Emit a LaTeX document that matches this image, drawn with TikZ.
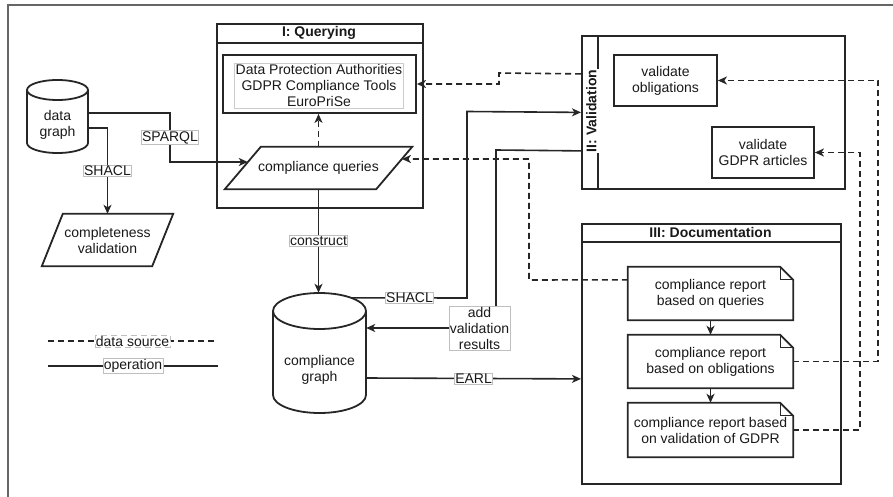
\documentclass[tikz,border=0pt]{standalone}
\usepackage{fontspec}
\setmainfont{Liberation Sans}
\usetikzlibrary{arrows.meta,calc}
\begin{document}
\begin{tikzpicture}[x=1pt,y=-1pt,
  base/.style={font=\fontsize{14}{16}\selectfont, align=center, text=black!90},
  titletxt/.style={font=\fontsize{14}{16}\selectfont\bfseries, text=black!90},
  box/.style={draw=black!85, line width=1.8pt},
  conn/.style={draw=black!85, line width=1.6pt},
  arr/.style={conn, -{Stealth[length=9pt,width=8pt,inset=2.5pt]}},
  dsh/.style={conn, dash pattern=on 6pt off 4pt},
  darr/.style={dsh, -{Stealth[length=9pt,width=8pt,inset=2.5pt]}},
  lbl/.style={base, fill=white, draw=black!25, line width=0.5pt, inner sep=0.8pt},
  area/.style={inner sep=0pt},
]
\useasboundingbox (0,0) rectangle (893,497);

% outer frame
\draw[black!60, line width=1.2pt] (8,497) -- (8,5) -- (893,5);

% ---- lanes ----
\node[box, area, minimum width=206, minimum height=184, anchor=north west] (ql) at (216,23) {};
\draw[box] ($(ql.north west)+(0,20)$) -- ($(ql.north east)+(0,20)$);
\node[titletxt] (qt) at (319,33) {I: Querying};

\node[box, area, minimum width=263, minimum height=153, anchor=north west] (vl) at (581,35) {};
\draw[box] ($(vl.north west)+(17,0)$) -- ($(vl.south west)+(17,0)$);
\node[titletxt, rotate=90, fill=white, minimum height=17, inner sep=1pt] (vt) at (591.3,111) {II: Validation};

\node[box, area, minimum width=259, minimum height=260, anchor=north west] (dl) at (581,223) {};
\draw[box] ($(dl.north west)+(0,19)$) -- ($(dl.north east)+(0,19)$);
\node[titletxt] (dt) at (710.5,232.5) {III: Documentation};

% ---- data graph cylinder ----
\node[area, minimum width=61, minimum height=73] (dg) at (57.5,116.5) {};
\draw[box] (27,90) -- (27,143) arc[start angle=180, end angle=0, x radius=30.5, y radius=10] -- (88,90);
\draw[box] (57.5,90) ellipse[x radius=30.5, y radius=10];
\node[base] (dgt) at (57.5,125) {data\\graph};

% ---- compliance graph cylinder ----
\node[area, minimum width=93, minimum height=120] (cg) at (319.5,353) {};
\draw[box] (273,311) -- (273,395) arc[start angle=180, end angle=0, x radius=46.5, y radius=18] -- (366,311);
\draw[box] (319.5,311) ellipse[x radius=46.5, y radius=18];
\node[base] (cgt) at (319.5,370) {compliance\\graph};

% ---- parallelograms ----
\node[base, area, minimum width=187, minimum height=42] (cq) at (318.5,168) {compliance queries};
\draw[box] (cq.south west) -- ($(cq.north west)+(36,0)$) -- (cq.north east) -- ($(cq.south east)+(-36,0)$) -- cycle;

\node[base, area, minimum width=131, minimum height=52] (cv) at (107.5,240) {completeness\\validation};
\draw[box] (cv.south west) -- ($(cv.north west)+(21,0)$) -- (cv.north east) -- ($(cv.south east)+(-21,0)$) -- cycle;

% ---- sources box ----
\node[box, area, minimum width=193, minimum height=58] (dpa) at (319.5,84) {};
\node[base, draw=black!20, line width=0.6pt, inner sep=1.5pt] (dpat) at (319,85.5) {Data Protection Authorities\\GDPR Compliance Tools\\EuroPriSe};

% ---- validation boxes ----
\node[box, base, area, minimum width=103, minimum height=51] (vo) at (665.5,80.5) {validate\\obligations};
\node[box, base, area, minimum width=102, minimum height=51] (vg) at (763,152.5) {validate\\GDPR articles};

% ---- reports ----
\node[base, area, minimum width=165, minimum height=53] (r1) at (710.5,293.5) {compliance report\\based on queries};
\node[base, area, minimum width=165, minimum height=53] (r2) at (710.5,361.5) {compliance report\\based on obligations};
\node[base, area, minimum width=165, minimum height=54] (r3) at (710.5,430) {compliance report based\\on validation of GDPR};
\foreach \r in {r1,r2,r3}{
  \draw[box] (\r.south west) -- (\r.north west) -- ($(\r.north east)+(-13,0)$) -- ($(\r.north east)+(0,13)$) -- (\r.south east) -- cycle;
  \draw[box, line width=1.3pt] ($(\r.north east)+(-13,0)$) -- ($(\r.north east)+(-13,13)$) -- ($(\r.north east)+(0,13)$);
}

% ---- connectors ----
\draw[arr] ($(dg.east)+(0,-3.5)$) -- (170,113) -- node[lbl]{SPARQL} (170,162) -- ($(cq.west)+(23,-6)$);
\draw[arr] ($(dg.east)+(0,11.5)$) -- (107.5,128) -- node[lbl]{SHACL} (cv.north);
\draw[darr] (cq.north) -- (cq.north |- dpa.south);
\draw[arr] (cq.south) -- node[lbl]{construct} (cq.south |- cg.north);
\draw[arr] ($(cg.north)+(32.5,5)$) -- node[lbl]{SHACL} (467,298) -- (467,111.5) -- (vl.west);
\draw[arr] ($(vl.west)+(0,38.5)$) -- (496,150) -- (496,328) -- node[lbl, pos=0.127]{add\\validation\\results} ($(cg.east)+(0,-25)$);
\draw[arr] ($(cg.east)+(0,25)$) -- node[lbl]{EARL} ($(dl.west)+(0,25)$);
\draw[darr] ($(vl.west)+(0,-38.5)$) -- (499,73) -- (499,84) -- (dpa.east);
\draw[darr] ($(r1.north west)+(0,13)$) -- (529,280) -- (529,159) -- ($(cq.east)+(-10.3,-9)$);
\draw[darr] (r2.east) -- (878,361.5) -- (878,80.5) -- (vo.east);
\draw[darr] (r3.east) -- (860,430) -- (860,152.5) -- (vg.east);
\draw[arr] (r1.south) -- (r2.north);
\draw[arr] (r2.south) -- (r3.north);

% ---- legend ----
\coordinate (la1) at (48,341);
\coordinate (la2) at (217,341);
\draw[dsh] (la1) -- node[lbl]{data source} (la2);
\coordinate (lb1) at (48,366);
\coordinate (lb2) at (218,366);
\draw[conn] (lb1) -- node[lbl]{operation} (lb2);
\end{tikzpicture}
\end{document}
